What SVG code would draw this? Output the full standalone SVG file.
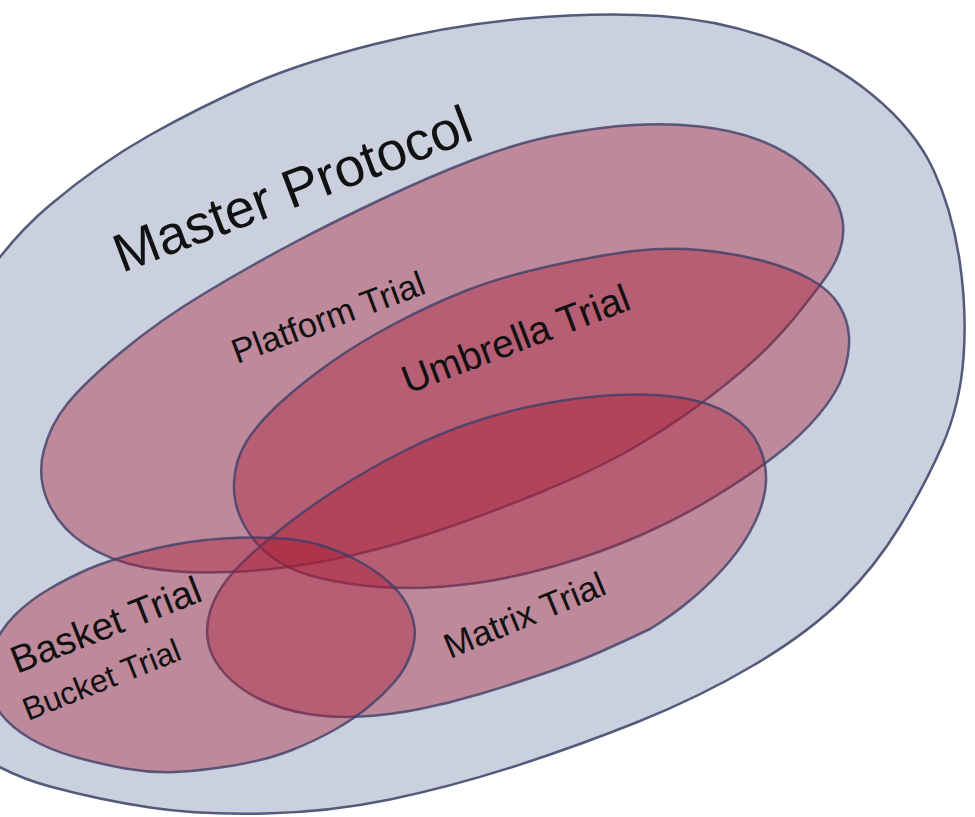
<svg xmlns="http://www.w3.org/2000/svg" width="975" height="817" viewBox="0 0 975 817">
<style>
.outer{fill:#cbd0de;stroke:#545a7a;stroke-width:2.5}
.set{fill:#aa1e36;fill-opacity:0.4;stroke:#3e4068;stroke-opacity:0.8;stroke-width:2.5}
text{font-family:"Liberation Sans",Arial,sans-serif;fill:#111}
</style>
<rect width="975" height="817" fill="#ffffff"/>
<g id="master">
<path class="outer" d="M -37.5,313.5 Q 0,247 50,205 Q 100,163 150,135 Q 200,107 250,85 Q 300,63 375,44 Q 450,25 525,18.5 Q 600,12 660,16 Q 720,20 775,40 Q 830,60 872.5,95 Q 915,130 933.5,170 Q 952,210 959.5,260 Q 967,310 963.5,357.5 Q 960,405 942.5,445 Q 925,485 900,526 Q 875,567 841.5,600 Q 808,633 754,665 Q 700,697 637.5,722 Q 575,747 512.5,767 Q 450,787 390,799.5 Q 330,812 265,813.5 Q 200,815 150,807.5 Q 100,800 50,786.5 Q 0,773 -40,741.5 Q -80,710 -97.5,635 Q -115,560 -95,470 Q -75,380 -37.5,313.5 Z"/>
<text font-size="54" transform="translate(122,273) rotate(-20.7)">Master Protocol</text>
</g>
<g id="platform">
<path class="set" d="M 560,134.5 Q 600,127 633.5,125 Q 667,123 700,126.5 Q 733,130 759,140 Q 785,150 803.5,165 Q 822,180 831,192.5 Q 840,205 842.5,220 Q 845,235 840,250 Q 835,265 825,278.5 Q 815,292 800,311 Q 785,330 766,349 Q 747,368 713.5,394 Q 680,420 640,444 Q 600,468 540,492.5 Q 480,517 430,533.5 Q 380,550 330,560 Q 280,570 230,572 Q 180,574 145,567.5 Q 110,561 85,544.5 Q 60,528 48.5,503 Q 37,478 43.5,451.5 Q 50,425 67.5,403.5 Q 85,382 122.5,351 Q 160,320 205,293 Q 250,266 291.5,244 Q 333,222 383,198.5 Q 433,175 476.5,158.5 Q 520,142 560,134.5 Z"/>
</g>
<g id="umbrella">
<path class="set" d="M 633.5,251 Q 667,247 700,250 Q 733,253 761.5,260.5 Q 790,268 810,279 Q 830,290 839,305 Q 848,320 849,336 Q 850,352 844,372 Q 838,392 819,414.5 Q 800,437 775,456 Q 750,475 715,496.5 Q 680,518 640,535.5 Q 600,553 556.5,565.5 Q 513,578 476.5,583 Q 440,588 410,588 Q 380,588 355,584.5 Q 330,581 310,575.5 Q 290,570 272.5,557.5 Q 255,545 244,525 Q 233,505 234,482.5 Q 235,460 246.5,441.5 Q 258,423 280.5,402.5 Q 303,382 331.5,362 Q 360,342 395,323.5 Q 430,305 465,291 Q 500,277 550,266 Q 600,255 633.5,251 Z"/>
</g>
<g id="matrix">
<path class="set" d="M 615,395 Q 650,393 680,397.5 Q 710,402 730,414.5 Q 750,427 758.5,445 Q 767,463 766,482 Q 765,501 755,522 Q 745,543 729,562 Q 713,581 693,598 Q 673,615 650,629 Q 625,641 600,652 Q 575,663 542.5,674 Q 510,685 480,694 Q 450,703 420,709 Q 390,715 361.5,716.5 Q 333,718 308,714 Q 283,710 261.5,700 Q 240,690 226,675 Q 212,660 208.5,644 Q 205,628 210,611.5 Q 215,595 227.5,579 Q 240,563 270,538 Q 300,513 335,490.5 Q 370,468 405,450.5 Q 440,433 475,421.5 Q 510,410 545,403.5 Q 580,397 615,395 Z"/>
</g>
<g id="basket">
<path class="set" d="M 223.5,538.5 Q 247,537 273.5,538 Q 300,539 320,545 Q 340,551 357.5,560.5 Q 375,570 387.5,581 Q 400,592 406.5,603.5 Q 413,615 414.5,627.5 Q 416,640 410.5,655 Q 405,670 394,682.5 Q 383,695 369,706.5 Q 355,718 336,729 Q 317,740 292,750 Q 267,760 233.5,765.5 Q 200,771 175,772 Q 150,773 125,768.5 Q 100,764 75,757 Q 50,750 31,739 Q 12,728 1,714 Q -10,700 -12.5,684 Q -15,668 -7.5,649 Q 0,630 15,615 Q 30,600 50,588.5 Q 70,577 88.5,569 Q 107,561 133.5,554 Q 160,547 180,543.5 Q 200,540 223.5,538.5 Z"/>
</g>
<g id="labels">
<text font-size="34.5" transform="translate(237,364) rotate(-20.5)">Platform Trial</text>
<text font-size="39" transform="translate(408,394) rotate(-20.8)">Umbrella Trial</text>
<text font-size="35" transform="translate(450,659) rotate(-22.5)">Matrix Trial</text>
<text font-size="38.5" transform="translate(17,674) rotate(-21.5)">Basket Trial</text>
<text font-size="32" transform="translate(28,721) rotate(-21.8)">Bucket Trial</text>
</g>
<g id="connectors"></g>
</svg>
